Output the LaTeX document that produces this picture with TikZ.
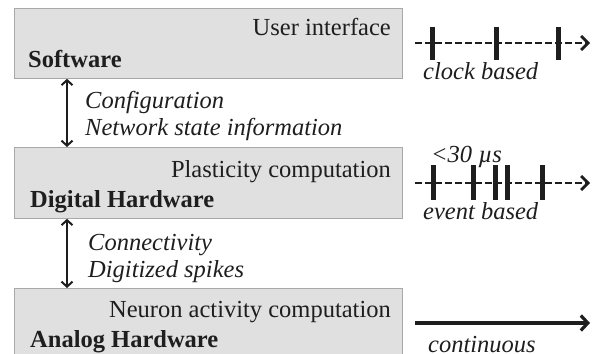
\documentclass[tikz,border=0pt]{standalone}
\usepackage{fontspec}
\setmainfont{Liberation Serif}
\usetikzlibrary{arrows.meta}
\definecolor{boxfill}{HTML}{E0E0E0}
\definecolor{boxline}{HTML}{A8A8A8}
\definecolor{ink}{HTML}{1E1E1E}
\begin{document}
\begin{tikzpicture}[x=1pt,y=-1pt,
  layer/.style={draw=boxline,line width=0.8pt,fill=boxfill,minimum width=388pt,inner sep=0pt,anchor=north west},
  txt/.style={inner sep=0pt,text=ink,font=\fontsize{24.5}{28}\selectfont},
  itxt/.style={txt,font=\fontsize{24.5}{28}\selectfont\itshape},
  btxt/.style={txt,font=\fontsize{24.5}{28}\selectfont\bfseries},
  biarrow/.style={{Straight Barb[length=5pt,width=11pt,line width=2pt]}-{Straight Barb[length=5pt,width=11pt,line width=2pt]},line width=2pt,draw=ink},
  dashline/.style={draw=ink,line width=2.8pt,dash pattern=on 6.5pt off 3.5pt,-{Straight Barb[length=7pt,width=14pt,line width=2.8pt]}},
  solidline/.style={draw=ink,line width=4pt,-{Straight Barb[length=7pt,width=15pt,line width=3.2pt]}},
  tick/.style={draw=ink,line width=5pt}]
\useasboundingbox (0,0) rectangle (596,353);
\clip (0,0) rectangle (596,353);
% layers
\node[layer,minimum height=70pt] (sw) at (14,8) {};
\node[layer,minimum height=71pt] (dh) at (14,147) {};
\node[layer,minimum height=80pt] (ah) at (14,288) {};
% texts in layers
\node[txt,anchor=base east] (ui) at (391,36) {User interface};
\node[btxt,anchor=base west] (swl) at (28,67) {Software};
\node[txt,anchor=base east] (pc) at (391,177) {Plasticity computation};
\node[btxt,anchor=base west] (dhl) at (30,207) {Digital Hardware};
\node[txt,anchor=base east] (nac) at (391,317) {Neuron activity computation};
\node[btxt,anchor=base west] (ahl) at (30,347) {Analog Hardware};
% links
\draw[biarrow] ([xshift=53pt]sw.south west) -- ([xshift=53pt]dh.north west);
\draw[biarrow] ([xshift=53pt]dh.south west) -- ([xshift=53pt]ah.north west);
\node[itxt,anchor=base west] (cfg) at (85,108) {Configuration};
\node[itxt,anchor=base west] (nsi) at (85,135) {Network state information};
\node[itxt,anchor=base west] (con) at (88,250) {Connectivity};
\node[itxt,anchor=base west] (dsp) at (88,277) {Digitized spikes};
% clock based
\coordinate (c0) at (415,43);
\coordinate (c1) at (590,43);
\draw[dashline] (c0) -- (c1);
\foreach \x/\n in {432/ct1,496/ct2,558/ct3}{
  \coordinate (\n a) at (\x,27); \coordinate (\n b) at (\x,60);
  \draw[tick] (\n a) -- (\n b);}
\node[itxt,anchor=base west] (cb) at (423,79) {clock based};
% event based
\coordinate (e0) at (415,183);
\coordinate (e1) at (590,183);
\draw[dashline] (e0) -- (e1);
\foreach \x/\n in {433/et1,473/et2,495/et3,507/et4,542/et5}{
  \coordinate (\n a) at (\x,165); \coordinate (\n b) at (\x,200);
  \draw[tick] (\n a) -- (\n b);}
\node[itxt,anchor=base west] (lt) at (431,162) {<30 µs};
\node[itxt,anchor=base west] (eb) at (423,219) {event based};
% continuous
\coordinate (s0) at (415,323);
\coordinate (s1) at (590,323);
\draw[solidline] (s0) -- (s1);
\node[itxt,anchor=base west] (cont) at (428,352.5) {continuous};
\end{tikzpicture}
\end{document}
